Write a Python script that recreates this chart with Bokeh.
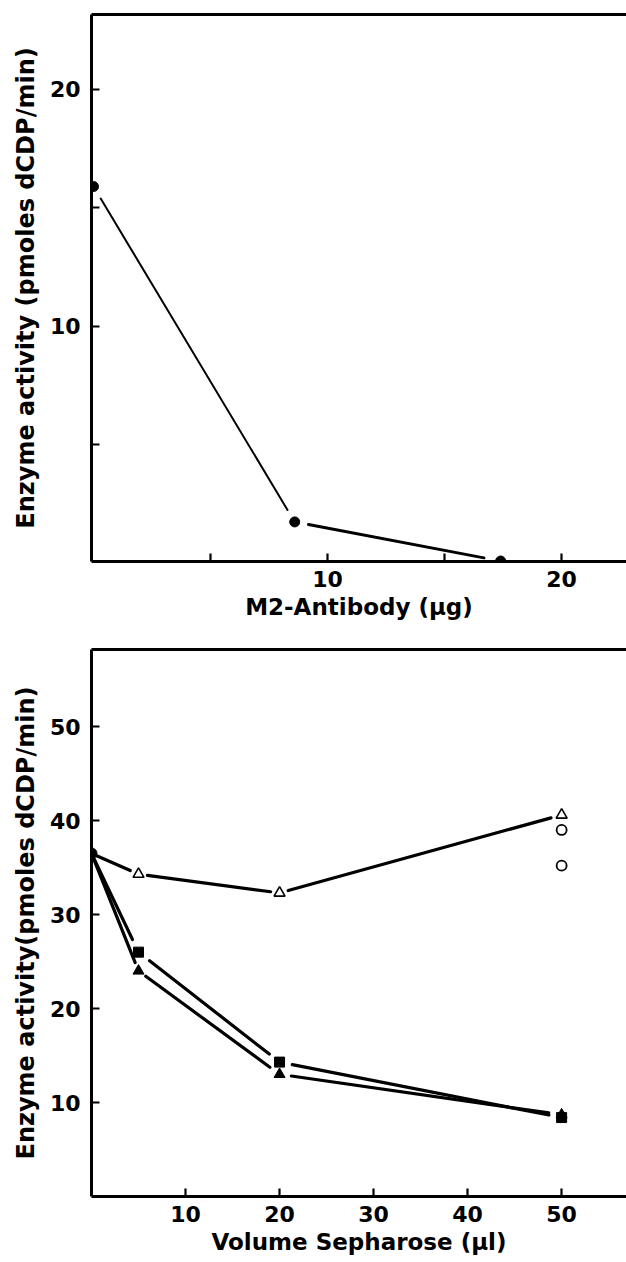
import numpy as np
from bokeh.plotting import figure
from bokeh.layouts import column
from bokeh.models import LinearAxis, FixedTicker, Range1d
from bokeh.embed import file_html
from bokeh.resources import INLINE

# ---------------- data: top panel ----------------
antibody_ug = [0.0, 8.6, 17.4]
activity_top = [15.9, 1.75, 0.1]
top_x_ticks = [10, 20]
top_x_minor = [5, 15]
top_y_ticks = [10, 20]
top_y_minor = [5, 15]

# ---------------- data: bottom panel ----------------
start_volume = [0.0]
start_activity = [36.5]
sepharose_ul = [5, 20, 50]
open_triangles = [34.3, 32.3, 40.6]
filled_squares = [26.0, 14.3, 8.4]
filled_triangles = [24.0, 13.0, 8.7]
open_circle_volume = [50, 50]
open_circles = [39.0, 35.2]
bottom_x_ticks = [10, 20, 30, 40, 50]
bottom_y_ticks = [10, 20, 30, 40, 50]

FONT = "DejaVu Sans"
FW, FH = 535, 547


def gapped_segments(p, xs, ys, gaps, widths):
    """Draw a polyline whose segments stop short of the markers."""
    xr, yr = p.x_range, p.y_range
    kx = FW / (xr.end - xr.start)
    ky = FH / (yr.end - yr.start)
    xs = np.asarray(xs, float)
    ys = np.asarray(ys, float)
    for i in range(len(xs) - 1):
        dx, dy = xs[i + 1] - xs[i], ys[i + 1] - ys[i]
        L = np.hypot(dx * kx, dy * ky)
        a = gaps[i] / L
        b = 1 - gaps[i + 1] / L
        p.segment([xs[i] + dx * a], [ys[i] + dy * a],
                  [xs[i] + dx * b], [ys[i] + dy * b],
                  line_color="black", line_width=widths[i], line_cap="round")


def make_fig(xr, yr, top_border, bottom_border, xticks, xminor, yticks, yminor,
             xlabel, ylabel):
    p = figure(frame_width=FW, frame_height=FH,
               x_range=Range1d(*xr), y_range=Range1d(*yr),
               output_backend="svg", toolbar_location=None,
               min_border_left=91, min_border_right=0,
               min_border_top=top_border, min_border_bottom=bottom_border,
               outline_line_color=None, background_fill_color="white")
    p.grid.visible = False
    p.xaxis.ticker = FixedTicker(ticks=xticks, minor_ticks=xminor)
    p.yaxis.ticker = FixedTicker(ticks=yticks, minor_ticks=yminor)
    p.xaxis.axis_label = xlabel
    p.yaxis.axis_label = ylabel
    for ax in (p.xaxis[0], p.yaxis[0]):
        ax.axis_line_width = 3
        ax.axis_line_color = "black"
        ax.major_tick_in = 8
        ax.major_tick_out = 0
        ax.minor_tick_in = 8
        ax.minor_tick_out = 0
        ax.major_tick_line_width = 2.2
        ax.minor_tick_line_width = 2.2
        ax.major_tick_line_color = "black"
        ax.minor_tick_line_color = "black"
        ax.major_label_text_font = FONT
        ax.major_label_text_font_style = "bold"
        ax.major_label_text_font_size = "22px"
        ax.major_label_text_color = "black"
        ax.axis_label_text_font = FONT
        ax.axis_label_text_font_style = "bold"
        ax.axis_label_text_color = "black"
    p.xaxis.axis_label_text_font_size = "23px"
    p.yaxis.axis_label_text_font_size = "24px"
    p.xaxis.major_label_standoff = 9
    p.xaxis.axis_label_standoff = 4
    p.yaxis.major_label_standoff = 11
    p.yaxis.axis_label_standoff = 7
    top = LinearAxis(ticker=FixedTicker(ticks=[]), axis_line_width=3,
                     axis_line_color="black", major_tick_line_color=None,
                     minor_tick_line_color=None, major_label_standoff=0,
                     major_label_text_font_size="0px", axis_label_standoff=0)
    p.add_layout(top, "above")
    return p


# ---------------- top panel ----------------
p1 = make_fig((-0.085, 22.78), (0.08, 23.16), 14, 66, top_x_ticks, top_x_minor,
              top_y_ticks, top_y_minor,
              "M2-Antibody (µg)", "Enzyme activity (pmoles dCDP/min)")
gapped_segments(p1, antibody_ug, activity_top, [14, 14, 17], [2.0, 3.0])
p1.scatter(antibody_ug, activity_top, marker="circle", size=10,
           fill_color="black", line_color="black")

# ---------------- bottom panel ----------------
p2 = make_fig((0.0, 56.9), (0.0, 58.2), 22, 66, bottom_x_ticks, [],
              bottom_y_ticks, [],
              "Volume Sepharose (µl)", "Enzyme activity(pmoles dCDP/min)")

vols = start_volume + sepharose_ul
gapped_segments(p2, vols, start_activity + open_triangles, [5, 9, 9, 11], [3.2] * 3)
gapped_segments(p2, vols, start_activity + filled_squares, [5, 14, 13, 13], [3.2] * 3)
gapped_segments(p2, vols, start_activity + filled_triangles, [5, 9, 12, 13], [3.2] * 3)

p2.scatter(sepharose_ul, open_triangles, marker="triangle", size=11,
           fill_color="white", line_color="black", line_width=1.6)
p2.scatter(open_circle_volume, open_circles, marker="circle", size=10,
           fill_color="white", line_color="black", line_width=1.8)
p2.scatter(sepharose_ul, filled_triangles, marker="triangle", size=11,
           fill_color="black", line_color="black")
p2.scatter(sepharose_ul, filled_squares, marker="square", size=10,
           fill_color="black", line_color="black")
p2.scatter(start_volume, start_activity, marker="circle", size=11,
           fill_color="black", line_color="black")

layout = column(p1, p2, spacing=0)
open("out.html", "w").write(file_html(layout, INLINE))
